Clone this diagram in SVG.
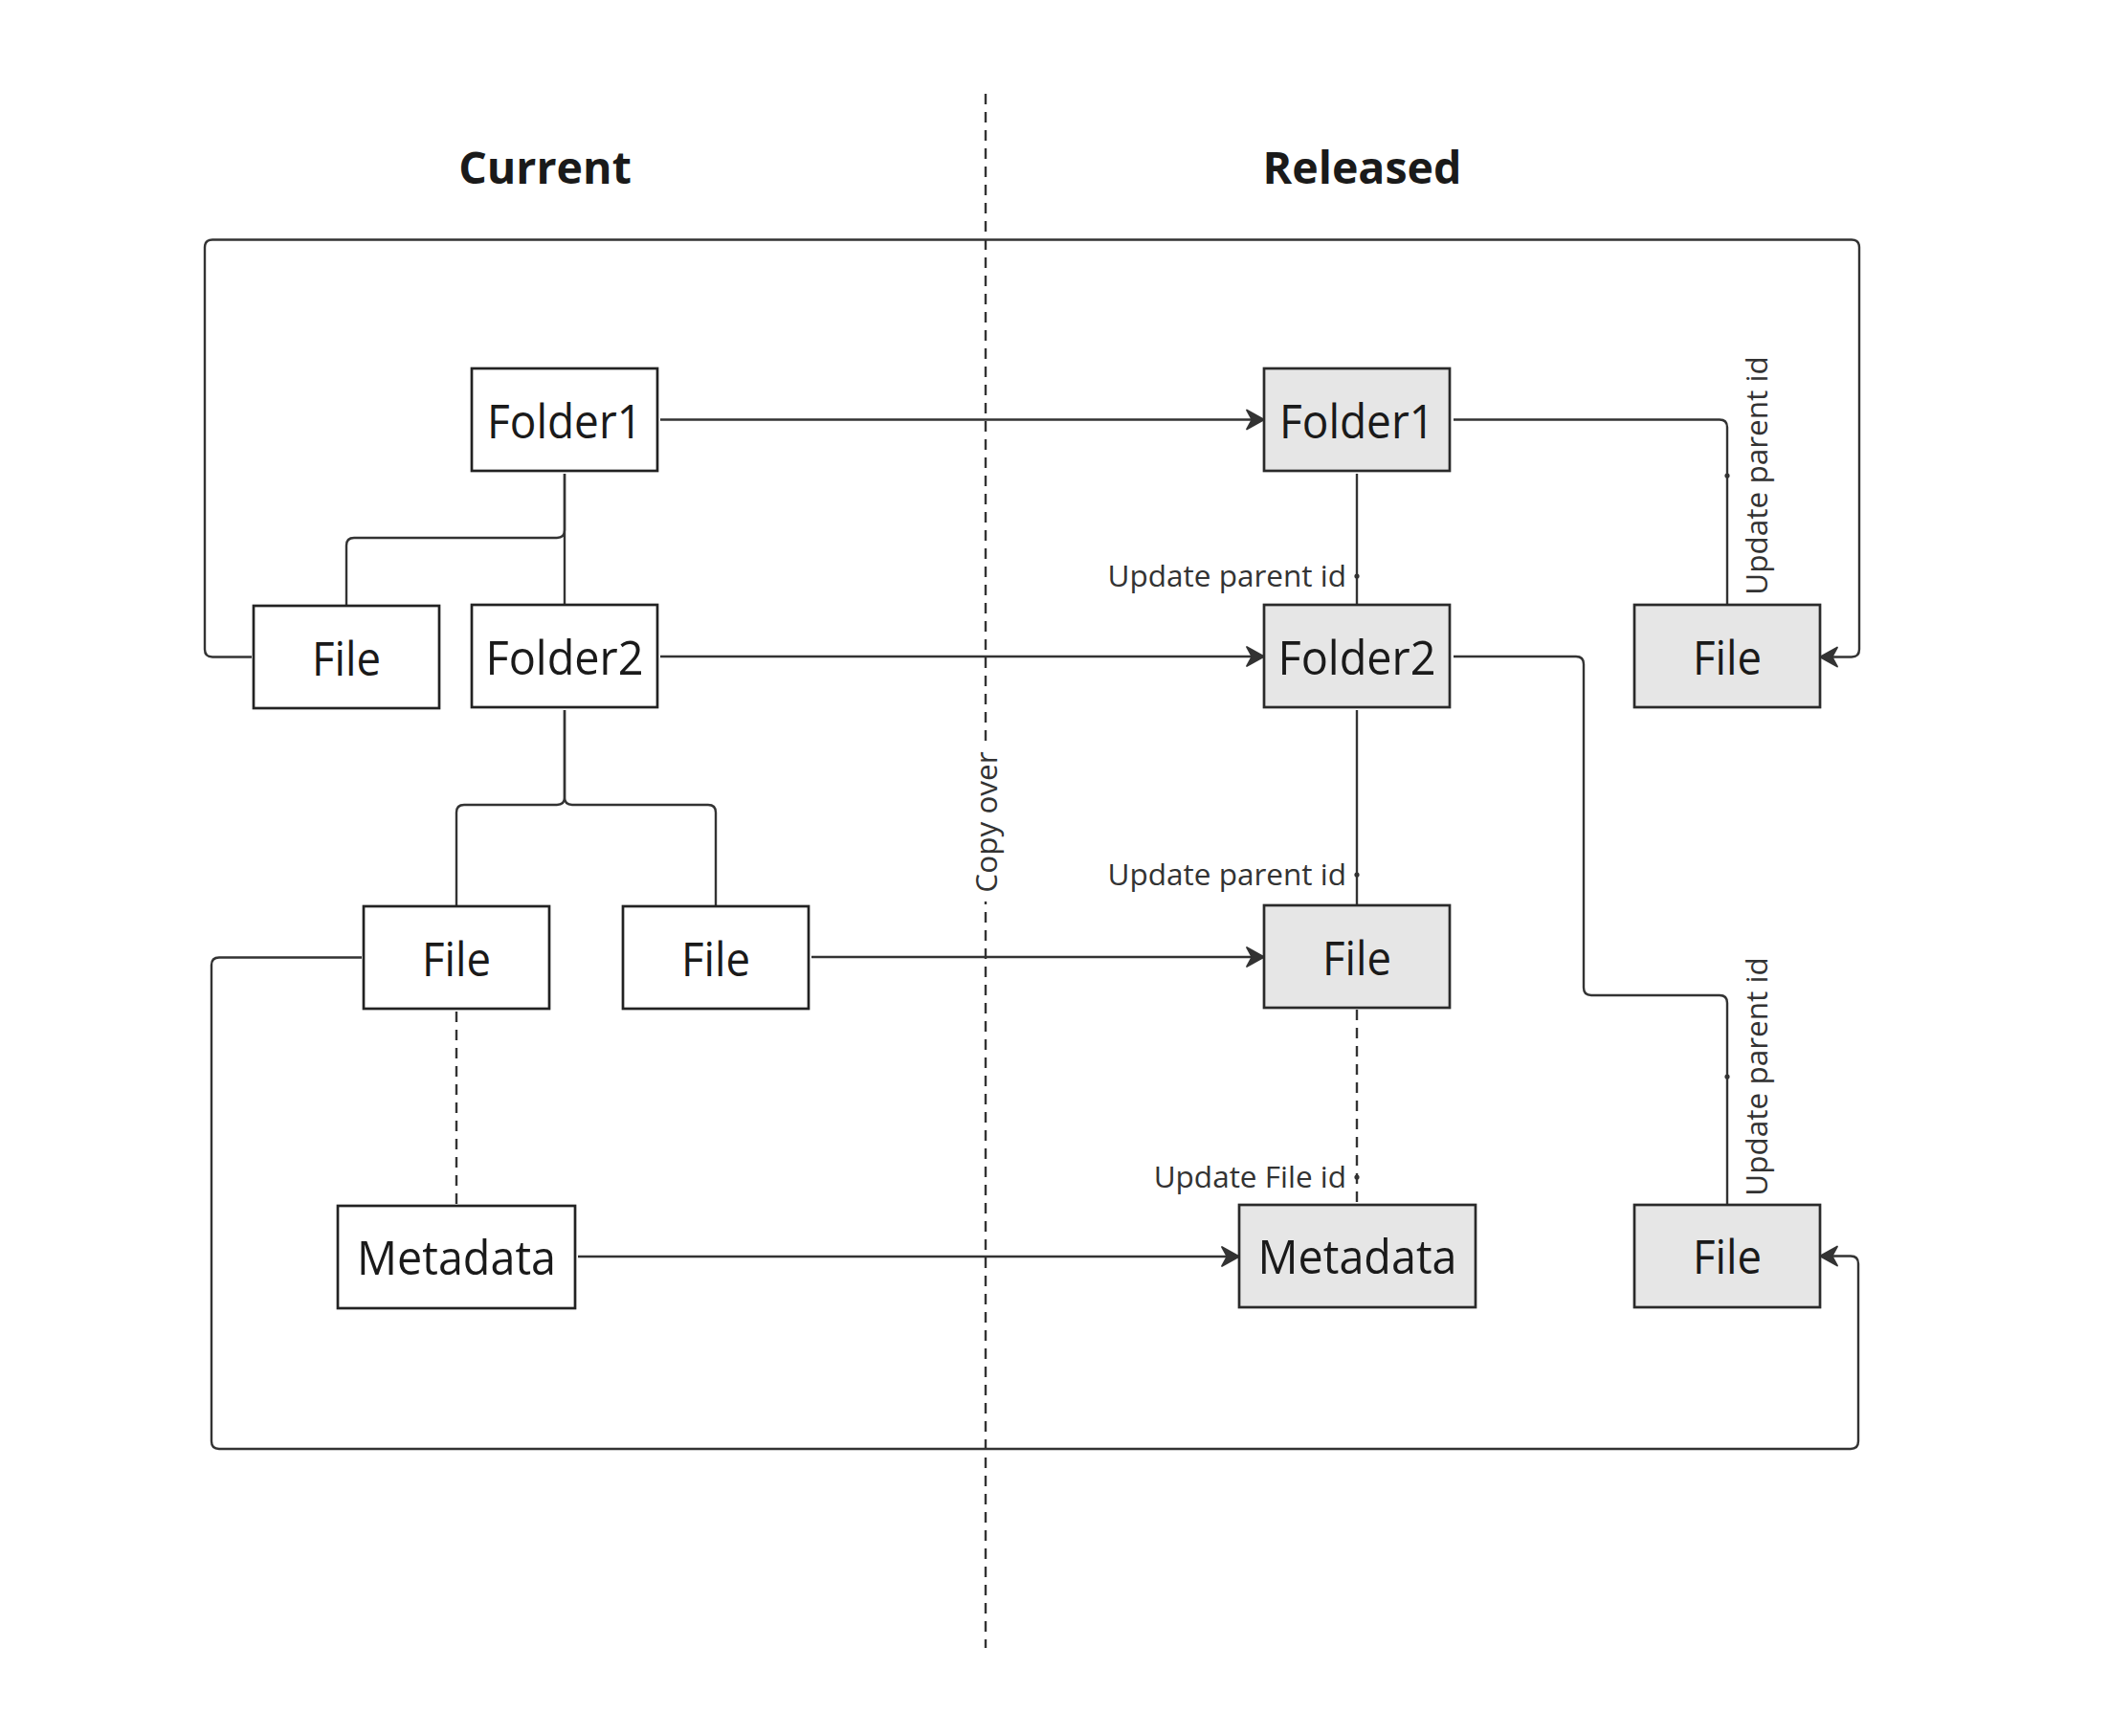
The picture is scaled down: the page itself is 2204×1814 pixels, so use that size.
<svg xmlns="http://www.w3.org/2000/svg" width="2204" height="1814" viewBox="0 0 2204 1814">
<style>
.box{fill:#ffffff;stroke:#222222;stroke-width:2.7}
.rel{fill:#e6e6e6;stroke:#2a2a2a;stroke-width:2.7}
.nt{font-family:"Open Sans","Noto Sans","Liberation Sans",sans-serif;font-size:49.5px;fill:#1a1a1a;text-anchor:middle}
.title{font-family:"Open Sans","Noto Sans","Liberation Sans",sans-serif;font-size:46.5px;font-weight:bold;fill:#1a1a1a;text-anchor:middle}
.lbl{font-family:"Open Sans","Noto Sans","Liberation Sans",sans-serif;font-size:31.5px;fill:#333333}
.ln{fill:none;stroke:#333333;stroke-width:2.4;stroke-linejoin:round}
.dash{fill:none;stroke:#333333;stroke-width:2.4;stroke-dasharray:11 8}
.dot{fill:#333333}
</style>
<defs>
<marker id="arr" markerUnits="userSpaceOnUse" markerWidth="24" markerHeight="26" viewBox="-20 -13 24 26" refX="0" refY="0" orient="auto">
<path d="M0,0 L-18,-10 L-12.5,0 L-18,10 Z" fill="#333333" stroke="#333333" stroke-width="1.8" stroke-linejoin="round"/>
</marker>
</defs>
<rect width="2204" height="1814" fill="#ffffff"/>

<g id="titles">
<text class="title" x="569.5" y="191.5">Current</text>
<text class="title" x="1423.5" y="191.5">Released</text>
</g>

<g id="divider">
<line class="dash" x1="1030" y1="98" x2="1030" y2="1722"/>
<rect x="1016" y="776" width="30" height="166" fill="#ffffff"/>
<text class="lbl" transform="translate(1041.5,859) rotate(-90)" text-anchor="middle">Copy over</text>
</g>

<g id="connectors">
<path class="ln" marker-end="url(#arr)" d="M690,438.5 H1321"/>
<path class="ln" marker-end="url(#arr)" d="M690,686 H1321"/>
<path class="ln" marker-end="url(#arr)" d="M848,1000 H1321"/>
<path class="ln" marker-end="url(#arr)" d="M604,1313 H1295"/>
<path class="ln" d="M590,495 V632"/>
<path class="ln" d="M590,495 V554 Q590,562 582,562 H370 Q362,562 362,570 V632"/>
<path class="ln" d="M590,742 V833 Q590,841 582,841 H485 Q477,841 477,849 V946"/>
<path class="ln" d="M590,742 V833 Q590,841 598,841 H740 Q748,841 748,849 V946"/>
<path class="dash" d="M477,1057 V1258"/>
<path class="ln" marker-end="url(#arr)" d="M263,686.5 H222 Q214,686.5 214,678.5 V258.5 Q214,250.5 222,250.5 H1935 Q1943,250.5 1943,258.5 V678.5 Q1943,686.5 1935,686.5 H1902"/>
<path class="ln" marker-end="url(#arr)" d="M378,1000.5 H229 Q221,1000.5 221,1008.5 V1506 Q221,1514 229,1514 H1934 Q1942,1514 1942,1506 V1320.5 Q1942,1312.5 1934,1312.5 H1902"/>
<path class="ln" d="M1418,495 V632"/>
<path class="ln" d="M1519,438.5 H1797 Q1805,438.5 1805,446.5 V632"/>
<path class="ln" d="M1418,742 V946"/>
<path class="dash" d="M1418,1055 V1258"/>
<path class="ln" d="M1519,686 H1647 Q1655,686 1655,694 V1032 Q1655,1040 1663,1040 H1797 Q1805,1040 1805,1048 V1258"/>
<circle class="dot" cx="1418" cy="602" r="2.6"/>
<circle class="dot" cx="1805" cy="497" r="2.6"/>
<circle class="dot" cx="1418" cy="914" r="2.6"/>
<circle class="dot" cx="1418" cy="1230" r="2.6"/>
<circle class="dot" cx="1805" cy="1125" r="2.6"/>
<text class="lbl" x="1407" y="613" text-anchor="end">Update parent id</text>
<text class="lbl" x="1407" y="925" text-anchor="end">Update parent id</text>
<text class="lbl" x="1407" y="1241" text-anchor="end">Update File id</text>
<text class="lbl" transform="translate(1847,497) rotate(-90)" text-anchor="middle">Update parent id</text>
<text class="lbl" transform="translate(1847,1125) rotate(-90)" text-anchor="middle">Update parent id</text>
</g>

<g id="cur-folder1"><rect class="box" x="493" y="385" width="194" height="107"/><text class="nt" x="590" y="457.5" textLength="162" lengthAdjust="spacingAndGlyphs">Folder1</text></g>
<g id="cur-file-a"><rect class="box" x="265" y="633" width="194" height="107"/><text class="nt" x="362" y="705.5" textLength="72" lengthAdjust="spacingAndGlyphs">File</text></g>
<g id="cur-folder2"><rect class="box" x="493" y="632" width="194" height="107"/><text class="nt" x="590" y="704.5" textLength="165" lengthAdjust="spacingAndGlyphs">Folder2</text></g>
<g id="cur-file-b"><rect class="box" x="380" y="947" width="194" height="107"/><text class="nt" x="477" y="1019.5" textLength="72" lengthAdjust="spacingAndGlyphs">File</text></g>
<g id="cur-file-c"><rect class="box" x="651" y="947" width="194" height="107"/><text class="nt" x="748" y="1019.5" textLength="72" lengthAdjust="spacingAndGlyphs">File</text></g>
<g id="cur-metadata"><rect class="box" x="353" y="1260" width="248" height="107"/><text class="nt" x="477" y="1332" textLength="208" lengthAdjust="spacingAndGlyphs">Metadata</text></g>

<g id="rel-folder1"><rect class="rel" x="1321" y="385" width="194" height="107"/><text class="nt" x="1418" y="457.5" textLength="162" lengthAdjust="spacingAndGlyphs">Folder1</text></g>
<g id="rel-folder2"><rect class="rel" x="1321" y="632" width="194" height="107"/><text class="nt" x="1418" y="704.5" textLength="165" lengthAdjust="spacingAndGlyphs">Folder2</text></g>
<g id="rel-file-top"><rect class="rel" x="1708" y="632" width="194" height="107"/><text class="nt" x="1805" y="704.5" textLength="72" lengthAdjust="spacingAndGlyphs">File</text></g>
<g id="rel-file-mid"><rect class="rel" x="1321" y="946" width="194" height="107"/><text class="nt" x="1418" y="1018.5" textLength="72" lengthAdjust="spacingAndGlyphs">File</text></g>
<g id="rel-metadata"><rect class="rel" x="1295" y="1259" width="247" height="107"/><text class="nt" x="1418.5" y="1331" textLength="208" lengthAdjust="spacingAndGlyphs">Metadata</text></g>
<g id="rel-file-bottom"><rect class="rel" x="1708" y="1259" width="194" height="107"/><text class="nt" x="1805" y="1331" textLength="72" lengthAdjust="spacingAndGlyphs">File</text></g>
</svg>
